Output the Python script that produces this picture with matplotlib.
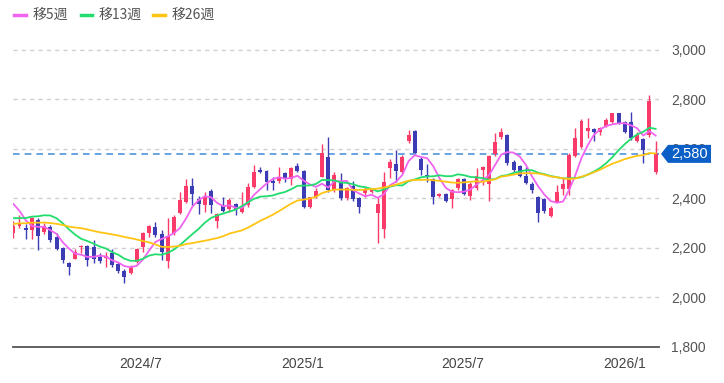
import numpy as np
import pandas as pd
import matplotlib
matplotlib.use('Agg')
import matplotlib.pyplot as plt
from matplotlib.patches import Polygon
from matplotlib.lines import Line2D
import matplotlib.transforms as mtransforms

plt.rcParams['font.family'] = ['Liberation Sans', 'Noto Sans CJK JP', 'DejaVu Sans']

# ---------------- data (weekly candles) ----------------
week_start = '2024-02-08'
opens = [2259, 2289, 2281, 2273, 2313, 2266, 2286, 2246, 2199, 2141,
         2154, 2204, 2208, 2203, 2165, 2158, 2181, 2135, 2108, 2100,
         2143, 2203, 2259, 2283, 2257, 2149, 2262, 2343, 2387, 2450,
         2397, 2374, 2431, 2310, 2370, 2356, 2376, 2347, 2374, 2448,
         2515, 2512, 2472, 2471, 2502, 2477, 2531, 2512, 2364, 2405,
         2488, 2569, 2434, 2464, 2401, 2451, 2401, 2424, 2425, 2343,
         2277, 2524, 2539, 2508, 2630, 2673, 2558, 2494, 2477, 2410,
         2418, 2397, 2441, 2477, 2410, 2441, 2515, 2458, 2580, 2648,
         2657, 2546, 2533, 2492, 2457, 2407, 2398, 2331, 2387, 2438,
         2438, 2573, 2609, 2673, 2680, 2667, 2694, 2708, 2744, 2708,
         2708, 2632, 2640, 2657, 2508]
highs = [2310, 2333, 2297, 2327, 2320, 2300, 2293, 2259, 2205, 2145,
         2195, 2212, 2212, 2232, 2178, 2185, 2195, 2145, 2114, 2131,
         2199, 2266, 2293, 2306, 2273, 2320, 2333, 2428, 2477, 2481,
         2410, 2428, 2437, 2343, 2407, 2401, 2380, 2428, 2461, 2535,
         2529, 2515, 2485, 2526, 2508, 2529, 2545, 2515, 2407, 2441,
         2620, 2647, 2508, 2504, 2448, 2472, 2407, 2445, 2441, 2405,
         2508, 2558, 2596, 2576, 2677, 2677, 2566, 2539, 2481, 2424,
         2424, 2440, 2481, 2481, 2468, 2522, 2531, 2576, 2666, 2685,
         2659, 2555, 2535, 2529, 2468, 2411, 2401, 2371, 2455, 2488,
         2582, 2683, 2721, 2724, 2686, 2690, 2724, 2744, 2744, 2713,
         2748, 2670, 2643, 2816, 2630]
lows = [2239, 2279, 2235, 2235, 2192, 2255, 2226, 2192, 2138, 2091,
        2154, 2180, 2127, 2138, 2138, 2122, 2122, 2098, 2057, 2095,
        2138, 2185, 2246, 2246, 2151, 2118, 2252, 2337, 2380, 2374,
        2337, 2347, 2340, 2279, 2347, 2347, 2333, 2340, 2367, 2441,
        2502, 2434, 2434, 2461, 2468, 2455, 2508, 2360, 2360, 2401,
        2485, 2428, 2428, 2394, 2394, 2391, 2343, 2405, 2421, 2221,
        2239, 2481, 2468, 2504, 2623, 2583, 2495, 2468, 2378, 2405,
        2387, 2360, 2434, 2414, 2394, 2434, 2455, 2391, 2572, 2640,
        2535, 2508, 2488, 2457, 2421, 2304, 2340, 2327, 2384, 2414,
        2414, 2569, 2603, 2643, 2630, 2657, 2690, 2704, 2700, 2663,
        2636, 2627, 2542, 2650, 2500]
closes = [2289, 2300, 2271, 2319, 2248, 2289, 2232, 2196, 2151, 2122,
          2185, 2209, 2152, 2154, 2146, 2167, 2131, 2108, 2081, 2125,
          2195, 2259, 2289, 2253, 2185, 2248, 2324, 2394, 2450, 2418,
          2378, 2404, 2374, 2337, 2351, 2394, 2356, 2370, 2448, 2508,
          2508, 2468, 2461, 2482, 2481, 2522, 2512, 2364, 2405, 2431,
          2585, 2434, 2495, 2401, 2441, 2397, 2367, 2437, 2434, 2378,
          2468, 2549, 2512, 2569, 2657, 2585, 2515, 2488, 2405, 2418,
          2391, 2434, 2477, 2418, 2459, 2491, 2526, 2572, 2626, 2670,
          2542, 2515, 2492, 2461, 2434, 2340, 2349, 2363, 2428, 2457,
          2576, 2643, 2713, 2683, 2667, 2686, 2716, 2744, 2704, 2670,
          2643, 2657, 2596, 2794, 2580]
# weekly closes before the visible window (estimated from the MA lines)
prior_closes = [2240, 2255, 2262, 2250, 2270, 2285, 2280, 2275, 2290, 2282,
                2278, 2290, 2305, 2290, 2270, 2245, 2230, 2236, 2245, 2340,
                2414, 2440, 2460, 2435, 2266]
ma_windows = [5, 13, 26]
ma_labels = ['移5週', '移13週', '移26週']
ma_colors = ['#f064f0', '#22dd6e', '#ffc414']
yticks = [1800, 2000, 2200, 2400, 2600, 2800, 3000]
xtick_dates = ['2024-07-01', '2025-01-01', '2025-07-01', '2026-01-01']
xtick_labels = ['2024/7', '2025/1', '2025/7', '2026/1']
last_price = 2580

UP = '#fa3a68'
DOWN = '#3c3cb4'

# ---------------- figure ----------------
W, H = 724, 383
fig = plt.figure(figsize=(W / 100, H / 100), dpi=100)
ax = fig.add_axes([13 / W, 36 / H, (659 - 13) / W, (347 - 38) / H])

n = len(closes)
x = np.arange(n)
o = np.array(opens, float); c = np.array(closes, float)
hi = np.array(highs, float); lo = np.array(lows, float)
up = c >= o
cols = np.where(up, UP, DOWN)

# grid
for v in yticks[1:]:
    ax.axhline(v, color='#d0d0d0', lw=1, ls=(0, (3, 3)), zorder=0)
ax.axhline(last_price, color='#4f94dc', lw=1.2, ls=(0, (4, 3)), zorder=1)

# candles
ax.vlines(x, lo, hi, colors=cols, lw=1, zorder=2)
body_bottom = np.minimum(o, c)
body_h = np.maximum(np.abs(c - o), 4)
ax.bar(x, body_h, bottom=body_bottom, width=0.64, color=cols, lw=0, zorder=3)

# moving averages
allc = pd.Series(prior_closes + closes, dtype=float)
for w, col in zip(ma_windows, ma_colors):
    ma = allc.rolling(w).mean().to_numpy()[-n:]
    ax.plot(x, ma, color=col, lw=1.3, zorder=4)

ax.set_xlim(-0.05, n - 1 + 0.55)
ax.set_ylim(1800, 3048)

# axes styling
for s in ['top', 'left', 'right']:
    ax.spines[s].set_visible(False)
ax.spines['bottom'].set_color('#555555')
ax.spines['bottom'].set_linewidth(1.3)
ax.yaxis.tick_right()
ax.set_yticks(yticks)
ax.set_yticklabels([f'{v:,}' for v in yticks])
t0 = pd.Timestamp(week_start)
xt = [(pd.Timestamp(d) - t0).days / 7 for d in xtick_dates]
ax.set_xticks(xt)
ax.set_xticklabels(xtick_labels)
ax.tick_params(axis='y', length=0, pad=9, labelsize=10, labelcolor='#555555')
ax.tick_params(axis='x', length=0, pad=7, labelsize=10, labelcolor='#444444')

# price tag
tr = mtransforms.blended_transform_factory(fig.transFigure, ax.transData)
hh = 9 * (3048 - 1800) / (347 - 38)
tag = Polygon([(661 / W, last_price), (668 / W, last_price + hh), (711 / W, last_price + hh),
               (711 / W, last_price - hh), (668 / W, last_price - hh)],
              closed=True, transform=tr, facecolor='#0b5fc6', edgecolor='none', zorder=10)
fig.add_artist(tag)
fig.text(690 / W, last_price, f'{last_price:,}', transform=tr, color='white',
         fontsize=10.5, ha='center', va='center', zorder=11)

# legend
leg_line_x = [(14, 26), (81, 92), (153, 165)]
leg_text_x = [33, 99, 172]
ly = 1 - 14.5 / H
for (x0, x1), tx, lab, col in zip(leg_line_x, leg_text_x, ma_labels, ma_colors):
    fig.add_artist(Line2D([x0 / W, x1 / W], [ly, ly], color=col, lw=2.5,
                          transform=fig.transFigure))
    fig.text(tx / W, ly, lab, fontsize=10, color='#555555', va='center', ha='left',
             family=['Noto Sans CJK JP', 'DejaVu Sans'])

fig.savefig('out.png', dpi=100)
